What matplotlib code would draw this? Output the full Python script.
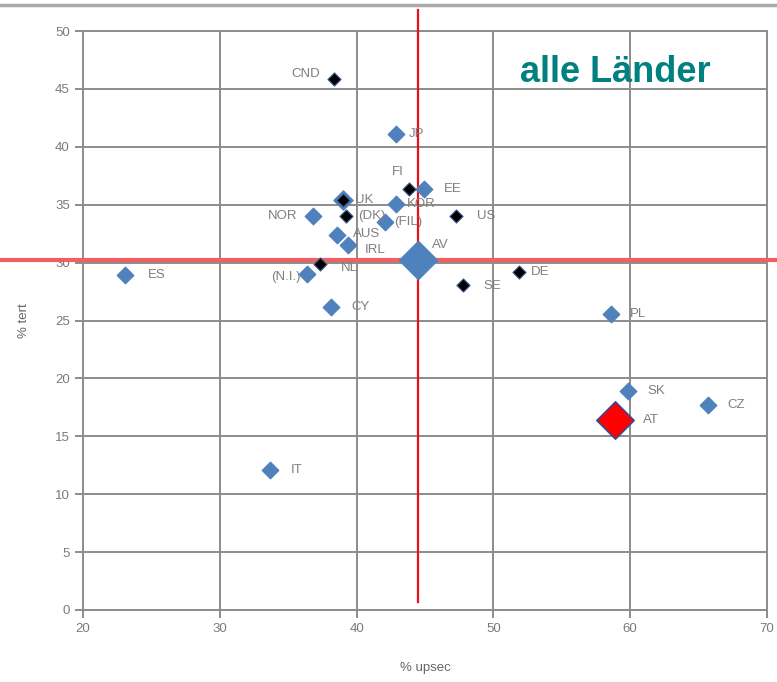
import matplotlib.pyplot as plt
from matplotlib.lines import Line2D

plt.rcParams['font.family'] = ['Liberation Sans', 'DejaVu Sans']

# blue countries
blue_names = ['JP', 'EE', 'KOR', 'NOR', '(FIL)', 'AUS', 'IRL', '(N.I.)', 'ES', 'CY',
              'PL', 'SK', 'CZ', 'IT']
blue_x = [42.9, 44.9, 42.9, 36.8, 42.1, 38.6, 39.4, 36.4, 23.1, 38.1, 58.6, 59.8, 65.7, 33.7]
blue_y = [41.1, 36.4, 35.1, 34.0, 33.5, 32.4, 31.5, 29.0, 28.9, 26.2, 25.6, 18.9, 17.7, 12.1]

# black countries
black_names = ['CND', 'FI', 'UK', '(DK)', 'US', 'NL', 'SE', 'DE']
black_x = [38.35, 43.8, 39.0, 39.2, 47.3, 37.3, 47.8, 51.9]
black_y = [45.9, 36.4, 35.4, 34.0, 34.0, 29.9, 28.1, 29.2]

# average and Austria
av_x, av_y = 44.5, 30.2
at_x, at_y = 58.9, 16.4

# label offsets in pixels (dx, dy, ha)
offsets = {
    'CND': (-14, 5, 'right'), 'JP': (13, 0, 'left'), 'FI': (-11, 17, 'center'),
    'EE': (20, 0, 'left'), 'KOR': (11, 0, 'left'), 'NOR': (-15, 0, 'right'),
    '(DK)': (12, 0, 'left'), 'US': (21, 0, 'left'), '(FIL)': (9, 0, 'left'),
    'AUS': (16, 1, 'left'), 'IRL': (16, -5, 'left'), '(N.I.)': (-7, -3, 'right'),
    'ES': (22, 0, 'left'), 'CY': (21, 0, 'left'), 'PL': (19, 0, 'left'),
    'SK': (20, 0, 'left'), 'CZ': (19, 0, 'left'), 'IT': (20, 0, 'left'),
    'UK': (12, 0, 'left'), 'NL': (21, -4, 'left'), 'SE': (20, -1, 'left'),
    'DE': (11, 0, 'left'), 'AV': (14, 15, 'left'), 'AT': (28, 0, 'left'),
}

blue = '#4f81bd'
gray = '#8c8c8c'
label_col = '#7f7f7f'

fig = plt.figure(figsize=(7.77, 6.82), dpi=100)
ax = fig.add_axes([0.1068, 0.1056, 0.8804, 0.8489])

ax.set_xlim(20, 70)
ax.set_ylim(0, 50)
ax.set_xticks(range(20, 71, 10))
ax.set_yticks(range(0, 51, 5))
ax.grid(True, color=gray, linewidth=1.4)
ax.set_axisbelow(True)
for s in ax.spines.values():
    s.set_color(gray)
    s.set_linewidth(1.4)
ax.tick_params(colors=gray, labelcolor='#7a7a7a', labelsize=9.5, length=6, width=1.4)

ax.set_xlabel('% upsec', color='#666666', fontsize=9.5, labelpad=19)
ax.set_ylabel('% tert', color='#666666', fontsize=9.5, labelpad=18)

# reference lines at average
ax.axvline(av_x, ymin=0.014, ymax=1.036, color='#e8101a', linewidth=1.6, clip_on=False, zorder=4)
ax.axhline(av_y, xmin=-0.122, xmax=1.015, color='#f06060', linewidth=3, clip_on=False, zorder=4)

ax.scatter(blue_x, blue_y, marker='D', s=70, color=blue, edgecolors=blue, zorder=5)
ax.scatter([39.0], [35.4], marker='D', s=95, color=blue, zorder=5)
ax.scatter(black_x, black_y, marker='D', s=45, color='black', edgecolors='#3a5f8f',
           linewidths=0.8, zorder=6)
ax.scatter([av_x], [av_y], marker='D', s=380, color=blue, zorder=6)
ax.scatter([at_x], [at_y], marker='D', s=360, color='#ff0000', edgecolors='#3a4a8f',
           linewidths=1.2, zorder=6)

names = blue_names + black_names + ['AV', 'AT']
xs = blue_x + black_x + [av_x, at_x]
ys = blue_y + black_y + [av_y, at_y]
for n, x, y in zip(names, xs, ys):
    dx, dy, ha = offsets[n]
    ax.annotate(n, (x, y), xytext=(dx, dy), textcoords='offset pixels',
                ha=ha, va='center', fontsize=9.5, color=label_col, zorder=7)

ax.text(0.778, 0.929, 'alle Länder', transform=ax.transAxes, ha='center', va='center',
        fontsize=26, fontweight='bold', color='#008080')

fig.add_artist(Line2D([0, 1], [0.993, 0.993], color='#aaaaaa', linewidth=2.5))

plt.savefig('out.png', dpi=100)
